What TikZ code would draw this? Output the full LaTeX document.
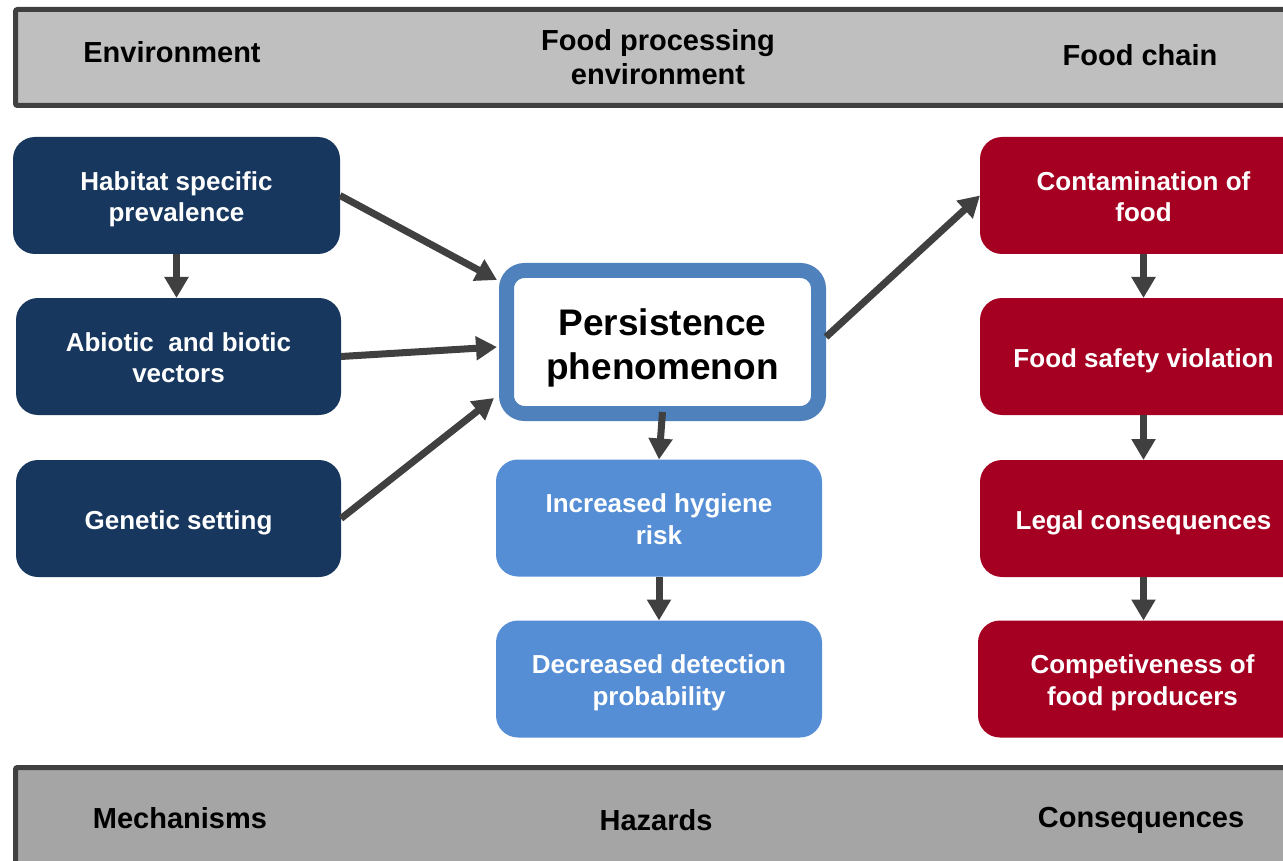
\documentclass[tikz,border=0pt]{standalone}
\usepackage{fontspec}
\setmainfont{Liberation Sans}
\usetikzlibrary{arrows.meta,calc}
\definecolor{navy}{HTML}{17375E}
\definecolor{redbox}{HTML}{A50021}
\definecolor{lightblue}{HTML}{558ED5}
\definecolor{midblue}{HTML}{4F81BD}
\definecolor{arrowgray}{HTML}{404040}
\definecolor{bartop}{HTML}{BFBFBF}
\definecolor{barbot}{HTML}{A5A5A5}
\newcommand\mytop{\rule{0pt}{0.93em}}
\newcommand\myboxtop{\rule{0pt}{1.05em}}
\newcommand\myperstop{\rule{0pt}{1.1em}}
\newcommand\mybot{\rule[-0.24em]{0pt}{0.24em}}
\tikzset{
  boxbase/.style={rectangle, rounded corners=22pt, minimum width=326pt, minimum height=117pt,
    inner sep=0pt, outer sep=0pt, text=white, align=center,
    font=\fontsize{26}{31.5}\selectfont\bfseries},
  navybox/.style={boxbase, fill=navy},
  redbx/.style={boxbase, fill=redbox},
  lbbox/.style={boxbase, fill=lightblue},
  persbox/.style={rectangle, rounded corners=18pt, draw=midblue, line width=15pt, fill=white,
    minimum width=312pt, minimum height=143pt, inner sep=0pt, align=center,
    font=\fontsize{37}{44}\selectfont\bfseries},
  barlabel/.style={text=black, align=center, font=\fontsize{29}{34}\selectfont\bfseries, inner sep=0pt},
  bar/.style={draw=arrowgray, line width=5pt, rounded corners=2pt},
  conn/.style={draw=arrowgray, line width=7pt, -{Triangle[length=21pt,width=23pt]}},
}
\begin{document}
\begin{tikzpicture}[x=1pt,y=-1pt]
\useasboundingbox (0,0) rectangle (1283,861);
\clip (0,0) rectangle (1283,861);
% banners
\path[bar, fill=bartop] (15.5,9.5) rectangle (1310,105.5);
\path[bar, fill=barbot] (15.5,767.5) rectangle (1310,880);
\node[barlabel] (lenv) at (172,52) {\mytop Environment\mybot};
\node[barlabel] (lfpe) at (658,57) {\mytop Food processing\\environment\mybot};
\node[barlabel] (lfc) at (1140,55) {\mytop Food chain\mybot};
\node[barlabel] (lmech) at (180,818) {\mytop Mechanisms\mybot};
\node[barlabel] (lhaz) at (656,820) {\mytop Hazards\mybot};
\node[barlabel] (lcons) at (1141,817) {\mytop Consequences\mybot};
% left column
\node[navybox, minimum width=327pt] (hab) at (176.5,195.5) {\myboxtop Habitat specific\\prevalence\mybot};
\node[navybox, minimum width=325pt] (abio) at (178.5,356.5) {\myboxtop Abiotic\ \ and biotic\\vectors\mybot};
\node[navybox, minimum width=325pt] (gen) at (178.5,518.5) {\myboxtop Genetic setting\mybot};
% center column
\node[persbox] (pers) at (662.5,342) {\myperstop Persistence\\phenomenon\mybot};
\node[lbbox] (hyg) at (659,518) {\myboxtop Increased hygiene\\risk\mybot};
\node[lbbox] (det) at (659,679) {\myboxtop Decreased detection\\probability\mybot};
% right column
\node[redbx, minimum width=327pt] (con) at (1143.5,195.5) {\myboxtop Contamination of\\food\mybot};
\node[redbx, minimum width=327pt] (safe) at (1143.5,356.5) {\myboxtop Food safety violation\mybot};
\node[redbx, minimum width=327pt] (legal) at (1143.5,518.5) {\myboxtop Legal consequences\mybot};
\node[redbx, minimum width=329pt] (comp) at (1142.5,679) {\myboxtop Competiveness of\\food producers\mybot};
% connectors
\draw[conn] (hab.east) -- ($(pers.west)+(-2,-62)$);
\draw[conn] (abio.east) -- ($(pers.west)+(-2,5)$);
\draw[conn] (gen.east) -- ($(pers.west)+(-5,56)$);
\draw[conn] ($(pers.east)+(0,-5)$) -- (con.west);
\draw[conn] (hab.south) -- (hab.south |- abio.north);
\draw[conn] ($(pers.south)+(0,-9)$) -- (hyg.north);
\draw[conn] (hyg.south) -- (det.north);
\draw[conn] (con.south) -- (con.south |- safe.north);
\draw[conn] (safe.south) -- (safe.south |- legal.north);
\draw[conn] (legal.south) -- (legal.south |- comp.north);
\end{tikzpicture}
\end{document}
